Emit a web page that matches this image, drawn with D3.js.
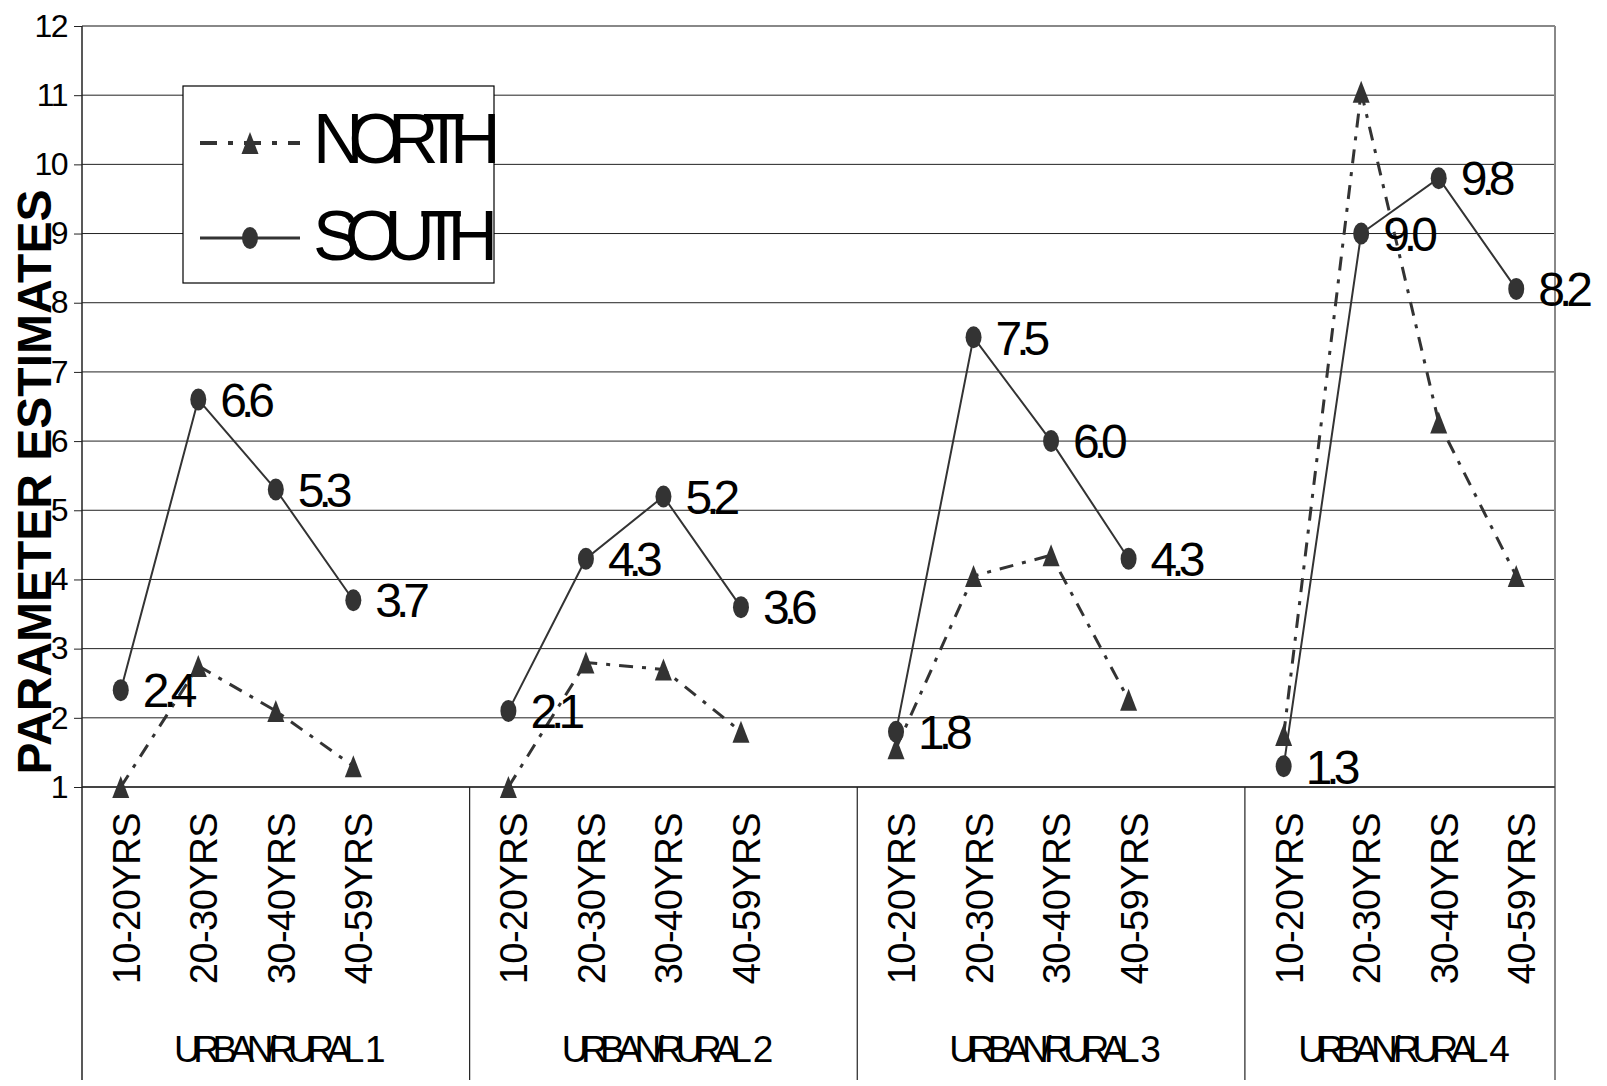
<!DOCTYPE html>
<html><head><meta charset="utf-8">
<script src="https://cdn.jsdelivr.net/npm/d3@7"></script>
<style>
html,body{margin:0;padding:0;background:#fff;}
svg{display:block;font-family:"Liberation Sans",Arial,sans-serif;}
</style></head><body>
<svg id="chart" width="1607" height="1086"></svg>
<script>
// Parameter estimates by age band within each urban/rural class
const groups = ["URBAN/RURAL 1", "URBAN/RURAL 2", "URBAN/RURAL 3", "URBAN/RURAL 4"];
const ageBands = ["10-20YRS", "20-30YRS", "30-40YRS", "40-59YRS"];
const seriesNames = ["NORTH", "SOUTH"];
const northValues = [
  [1.0, 2.75, 2.1, 1.3],
  [1.0, 2.8, 2.7, 1.8],
  [1.56, 4.05, 4.35, 2.26],
  [1.75, 11.05, 6.27, 4.05]
];
const southValues = [
  [2.4, 6.6, 5.3, 3.7],
  [2.1, 4.3, 5.2, 3.6],
  [1.8, 7.5, 6.0, 4.3],
  [1.3, 9.0, 9.8, 8.2]
];
const yTicks = [1, 2, 3, 4, 5, 6, 7, 8, 9, 10, 11, 12];

const svg = d3.select("#chart");
const plot = {left: 82, right: 1555, top: 26, bottom: 787, base: 1080};
const ink = "#333";

// one slot per age band, plus an empty slot separating consecutive groups
const slots = [];
groups.forEach((g, gi) => {
  ageBands.forEach((a, ai) => slots.push({key: gi + "-" + ai, gi, ai, label: a}));
  if (gi < groups.length - 1) slots.push({key: "gap" + gi, gi, ai: null});
});

const x = d3.scaleBand().domain(slots.map(d => d.key)).range([plot.left, plot.right]).padding(0);
const bw = x.bandwidth();
const cx = (gi, ai) => x(gi + "-" + ai) + bw / 2;
const y = d3.scaleLinear().domain([1, 12]).range([plot.bottom, plot.top]);

// horizontal gridlines
svg.append("g").selectAll("line").data(yTicks.slice(1)).join("line")
  .attr("x1", plot.left).attr("x2", plot.right)
  .attr("y1", d => y(d)).attr("y2", d => y(d))
  .attr("stroke", d => d === 12 ? "#888" : "#222")
  .attr("stroke-width", d => d === 12 ? 2 : 1);

// right border of the plot and category table
svg.append("line").attr("x1", plot.right).attr("x2", plot.right)
  .attr("y1", plot.top).attr("y2", plot.base)
  .attr("stroke", "#888").attr("stroke-width", 2);

// baseline at y = 1
svg.append("line").attr("x1", plot.left).attr("x2", plot.right)
  .attr("y1", y(1)).attr("y2", y(1)).attr("stroke", "#444").attr("stroke-width", 2);

// y axis
const yAxis = svg.append("g").attr("transform", `translate(${plot.left},0)`)
  .call(d3.axisLeft(y).tickValues(yTicks).tickSize(8).tickPadding(7).tickFormat(d3.format("d")));
yAxis.select(".domain").remove();
yAxis.append("line").attr("x1", 0).attr("x2", 0).attr("y1", plot.top).attr("y2", plot.base)
  .attr("stroke", "#222").attr("stroke-width", 1.5);
yAxis.selectAll(".tick line").attr("stroke", "#222");
yAxis.selectAll(".tick text").attr("font-size", 32).attr("fill", "#000")
  .attr("font-family", "Liberation Sans, Arial, sans-serif").attr("letter-spacing", -1.5);

// group boundaries in the category table
const groupStart = gi => gi === 0 ? plot.left : x("gap" + (gi - 1)) + bw;
const groupEnd = gi => gi === groups.length - 1 ? plot.right : x("gap" + gi) + bw;
svg.append("g").selectAll("line").data(groups.slice(1)).join("line")
  .attr("x1", (d, i) => groupStart(i + 1)).attr("x2", (d, i) => groupStart(i + 1))
  .attr("y1", plot.bottom).attr("y2", plot.base)
  .attr("stroke", "#222").attr("stroke-width", 1.2);

// age band labels
svg.append("g").selectAll("text").data(slots.filter(d => d.ai !== null)).join("text")
  .attr("transform", d => `translate(${cx(d.gi, d.ai)},813) rotate(-90)`)
  .attr("text-anchor", "end").attr("dy", 19)
  .attr("font-size", 38).attr("letter-spacing", -0.5)
  .text(d => d.label);

// group labels: tightly set name, then the class number
const gl = svg.append("g").selectAll("text").data(groups).join("text")
  .attr("x", (d, i) => (groupStart(i) + groupEnd(i)) / 2 + 4)
  .attr("y", 1062).attr("text-anchor", "middle")
  .attr("font-size", 37);
gl.append("tspan").attr("letter-spacing", -7.5).text(d => d.slice(0, d.lastIndexOf(" ")));
gl.append("tspan").attr("dx", -2).text(d => d.slice(d.lastIndexOf(" ")));

// y axis title
svg.append("text").attr("transform", "translate(51,482) rotate(-90)")
  .attr("text-anchor", "middle").attr("font-size", 48).attr("font-weight", "bold")
  .text("PARAMETER ESTIMATES");

const line = d3.line().x(d => d[0]).y(d => d[1]);
const pts = (vals, gi) => vals.map((v, ai) => [cx(gi, ai), y(v)]);
const triPath = "M0,-11L8.5,11L-8.5,11Z";
const northDash = "14,9,4,9";

// NORTH series
const north = svg.append("g");
northValues.forEach((vals, gi) => {
  north.append("path").attr("d", line(pts(vals, gi)))
    .attr("fill", "none").attr("stroke", ink).attr("stroke-width", 3)
    .attr("stroke-dasharray", northDash);
});
northValues.forEach((vals, gi) => {
  north.selectAll(null).data(pts(vals, gi)).join("path")
    .attr("transform", d => `translate(${d[0]},${d[1]})`)
    .attr("d", triPath).attr("fill", ink);
});

// SOUTH series
const south = svg.append("g");
southValues.forEach((vals, gi) => {
  south.append("path").attr("d", line(pts(vals, gi)))
    .attr("fill", "none").attr("stroke", ink).attr("stroke-width", 2);
});
southValues.forEach((vals, gi) => {
  const p = pts(vals, gi);
  south.selectAll(null).data(p).join("ellipse")
    .attr("cx", d => d[0]).attr("cy", d => d[1]).attr("rx", 8).attr("ry", 11).attr("fill", ink);
  south.selectAll(null).data(vals).join("text")
    .attr("x", (v, ai) => cx(gi, ai) + 22).attr("y", v => y(v))
    .attr("dy", "0.36em").attr("font-size", 48).attr("letter-spacing", -6)
    .text(v => d3.format(".1f")(v));
});

// legend
const legend = svg.append("g");
legend.append("rect").attr("x", 183).attr("y", 86).attr("width", 311).attr("height", 197)
  .attr("fill", "#fff").attr("stroke", "#000").attr("stroke-width", 1.2);
const rows = [{name: seriesNames[0], y: 143, base: 163}, {name: seriesNames[1], y: 238, base: 260}];
legend.append("line").attr("x1", 200).attr("x2", 300).attr("y1", rows[0].y).attr("y2", rows[0].y)
  .attr("stroke", ink).attr("stroke-width", 4).attr("stroke-dasharray", "17,11,5,11");
legend.append("path").attr("transform", `translate(250,${rows[0].y})`).attr("d", triPath).attr("fill", ink);
legend.append("line").attr("x1", 200).attr("x2", 300).attr("y1", rows[1].y).attr("y2", rows[1].y)
  .attr("stroke", ink).attr("stroke-width", 3);
legend.append("ellipse").attr("cx", 250).attr("cy", rows[1].y).attr("rx", 8).attr("ry", 11).attr("fill", ink);
legend.selectAll("text").data(rows).join("text")
  .attr("x", 313).attr("y", d => d.base).attr("font-size", 70).attr("letter-spacing", -15)
  .text(d => d.name);
</script>
</body></html>
